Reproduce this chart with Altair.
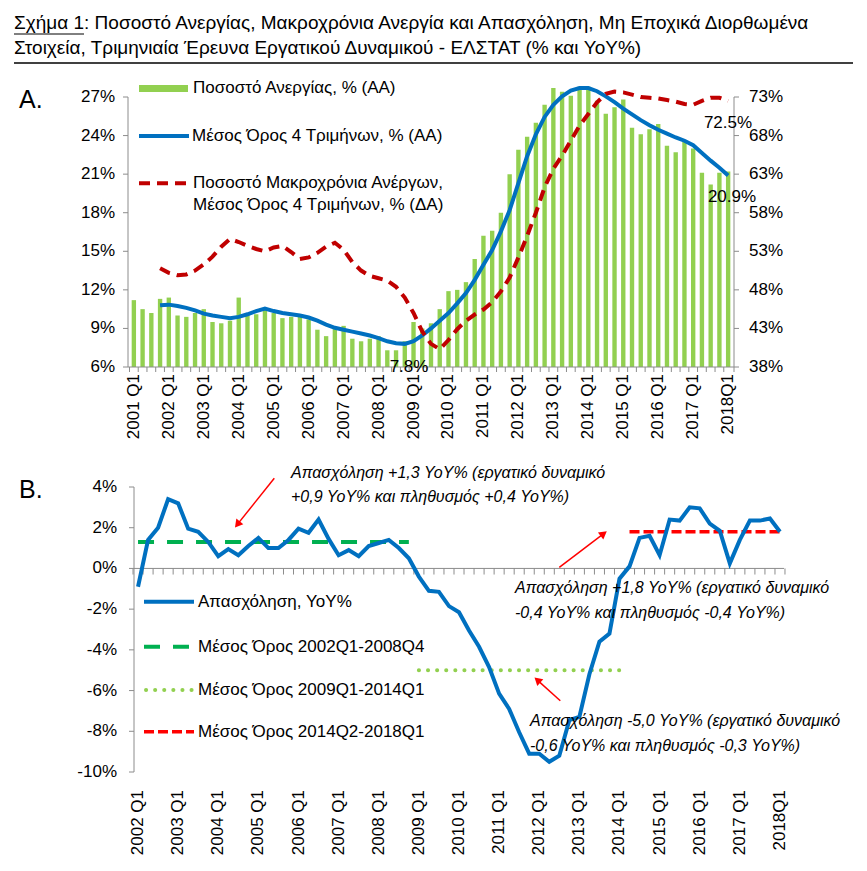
import altair as alt
import pandas as pd

FONT = "Liberation Sans"
GRAY = "#8c8c8c"
BLUE = "#0070C0"
BAR_GREEN = "#92D050"
DARK_RED = "#C00000"
GREEN = "#00B050"
RED = "#FF0000"

# ---------------- Panel A data ----------------
quarters_a = [f"{y} Q{q}" for y in range(2001, 2018) for q in (1, 2, 3, 4)] + ["2018 Q1"]
unemployment = [
    11.2, 10.5, 10.2, 11.3, 11.4, 10.0, 9.9, 10.2, 10.5, 9.5,
    9.4, 9.6, 11.4, 10.2, 10.1, 10.6, 10.2, 9.8, 9.9, 9.9,
    9.7, 8.9, 8.4, 9.0, 9.2, 8.2, 8.0, 8.2, 8.4, 7.3,
    7.3, 8.0, 9.5, 9.0, 9.4, 10.5, 11.9, 12.0, 12.6, 14.4,
    16.2, 16.6, 18.0, 21.0, 22.9, 23.9, 25.0, 26.4, 27.7, 27.4,
    27.1, 27.8, 27.8, 26.7, 25.7, 26.2, 26.8, 24.6, 24.1, 24.5,
    24.9, 23.2, 22.7, 23.5, 23.0, 21.1, 20.2, 21.1, 21.2,
]
# 4-quarter averages start in 2001 Q4
quarters_ma = quarters_a[3:]
unemployment_ma4 = [
    10.8, 10.85, 10.75, 10.6, 10.4, 10.15, 10.0, 9.9, 9.8, 9.9,
    10.1, 10.35, 10.55, 10.35, 10.2, 10.1, 10.0, 9.85, 9.6, 9.3,
    9.05, 8.9, 8.75, 8.6, 8.45, 8.25, 8.0, 7.85, 7.8, 8.0,
    8.45, 9.0, 9.6, 10.2, 10.95, 11.75, 12.78, 13.95, 15.1, 16.55,
    18.2, 20.3, 22.4, 24.1, 25.45, 26.4, 27.05, 27.5, 27.7, 27.7,
    27.45, 27.05, 26.6, 26.1, 25.65, 25.2, 24.8, 24.45, 24.15, 23.85,
    23.6, 23.25, 22.65, 22.05, 21.5, 20.9,
]
long_term_ma4 = [
    50.8, 50.2, 49.9, 50.0, 50.5, 51.3, 52.3, 53.6, 54.6, 54.2,
    53.7, 53.3, 53.0, 53.5, 53.7, 52.9, 52.0, 52.2, 52.8, 53.6,
    54.1, 53.2, 51.6, 50.5, 49.8, 49.5, 49.2, 48.4, 47.0, 45.0,
    42.6, 41.0, 40.3, 41.5, 42.9, 44.0, 44.8, 45.45, 46.4, 47.8,
    49.6, 52.2, 55.0, 58.0, 61.3, 63.7, 65.4, 67.35, 69.3, 70.8,
    72.3, 73.4, 73.7, 73.6, 73.3, 73.0, 72.9, 72.8, 72.6, 72.4,
    72.1, 72.0, 72.5, 72.9, 72.9, 72.5,
]
left_ticks_a = [6, 9, 12, 15, 18, 21, 24, 27]
left_labels_a = ["6%", "9%", "12%", "15%", "18%", "21%", "24%", "27%"]
right_ticks_a = [38, 43, 48, 53, 58, 63, 68, 73]
right_labels_a = ["38%", "43%", "48%", "53%", "58%", "63%", "68%", "73%"]
xlabel_q_a = [q for q in quarters_a if q.endswith("Q1")]
xlabel_text_a = [f"{y} Q1" for y in range(2001, 2018)] + ["2018Q1"]

# ---------------- Panel B data ----------------
quarters_b = quarters_a[4:]
employment_yoy = [
    -0.9, 1.4, 2.0, 3.4, 3.2, 1.95, 1.8, 1.3, 0.6, 0.95,
    0.65, 1.1, 1.5, 1.0, 1.0, 1.4, 1.95, 1.75, 2.4, 1.45,
    0.65, 0.9, 0.6, 1.1, 1.25, 1.4, 1.0, 0.5, -0.4, -1.1,
    -1.15, -1.85, -2.15, -3.05, -3.85, -4.85, -6.15, -6.9, -8.05, -9.1,
    -9.1, -9.5, -9.2, -7.45, -7.3, -5.2, -3.6, -3.2, -0.5, 0.1,
    1.5, 1.6, 0.65, 2.4, 2.35, 3.0, 2.95, 2.2, 1.85, 0.25,
    1.4, 2.35, 2.35, 2.45, 1.8,
]
avg_labels = ["Μέσος Όρος 2002Q1-2008Q4", "Μέσος Όρος 2009Q1-2014Q1", "Μέσος Όρος 2014Q2-2018Q1"]
avg_values = [1.3, -5.0, 1.8]
avg_start = ["2002 Q1", "2009 Q1", "2014 Q2"]
avg_end = ["2008 Q4", "2014 Q1", "2018 Q1"]
ticks_b = [-10, -8, -6, -4, -2, 0, 2, 4]
tick_labels_b = ["-10%", "-8%", "-6%", "-4%", "-2%", "0%", "2%", "4%"]
xlabel_q_b = [q for q in quarters_b if q.endswith("Q1")]
xlabel_text_b = [f"{y} Q1" for y in range(2002, 2018)] + ["2018Q1"]

one = pd.DataFrame({"a": [0]})


def txt(s, x, y, size=17, align="left", italic=False, color="black"):
    return alt.Chart(pd.DataFrame({"t": [s]})).mark_text(
        align=align, baseline="middle", font=FONT, fontSize=size,
        fontStyle="italic" if italic else "normal", color=color
    ).encode(x=alt.value(x), y=alt.value(y), text="t:N")


def seg(x1, y1, x2, y2, color=GRAY, width=1, dash=None, cap=None):
    kw = dict(color=color, strokeWidth=width)
    if dash:
        kw["strokeDash"] = dash
    if cap:
        kw["strokeCap"] = cap
    return alt.Chart(one).mark_rule(**kw).encode(
        x=alt.value(x1), y=alt.value(y1), x2=alt.value(x2), y2=alt.value(y2))


def box(x1, y1, x2, y2, color="white", opacity=0.0):
    return alt.Chart(one).mark_rect(color=color, opacity=opacity).encode(
        x=alt.value(x1), x2=alt.value(x2), y=alt.value(y1), y2=alt.value(y2))


def arrowhead(x, y, angle):
    return alt.Chart(one).mark_point(shape="triangle-up", filled=True, size=80, angle=angle,
                                     color=RED, opacity=1).encode(x=alt.value(x), y=alt.value(y))


# ---------------- Panel A ----------------
WA, HA = 606, 270
df_bars = pd.DataFrame({"q": quarters_a, "u": unemployment, "base": [6.0] * len(quarters_a)})
df_ma = pd.DataFrame({"q": quarters_ma, "ma": unemployment_ma4})
df_lt = pd.DataFrame({"q": quarters_ma, "lt": long_term_ma4})
df_lticks = pd.DataFrame({"v": left_ticks_a, "lab": left_labels_a})
df_rticks = pd.DataFrame({"v": right_ticks_a, "lab": right_labels_a})
df_xl_a = pd.DataFrame({"q": xlabel_q_a, "lab": xlabel_text_a})

x_a = alt.X("q:O", scale=alt.Scale(domain=quarters_a, paddingInner=0.5, paddingOuter=0.42), axis=None)
ls = alt.Scale(domain=[6, 27], nice=False, zero=False)
rs = alt.Scale(domain=[38, 73], nice=False, zero=False)
STEP_A = 606 / (69 - 0.5 + 0.84)

bars = alt.Chart(df_bars).mark_bar(color=BAR_GREEN).encode(
    x=x_a, y=alt.Y("u:Q", scale=ls, axis=None), y2="base:Q")
blue_a = alt.Chart(df_ma).mark_line(color=BLUE, strokeWidth=4).encode(
    x=x_a, y=alt.Y("ma:Q", scale=ls, axis=None))
red_a = alt.Chart(df_lt).mark_line(color=DARK_RED, strokeWidth=4, strokeDash=[11, 7]).encode(
    x=x_a, y=alt.Y("lt:Q", scale=rs, axis=None))

l_ticks = alt.Chart(df_lticks).mark_rule(color=GRAY).encode(
    x=alt.value(-5), x2=alt.value(0), y=alt.Y("v:Q", scale=ls, axis=None))
l_labels = alt.Chart(df_lticks).mark_text(align="right", baseline="middle", font=FONT, fontSize=17).encode(
    x=alt.value(-13), y=alt.Y("v:Q", scale=ls, axis=None), text="lab:N")
r_ticks = alt.Chart(df_rticks).mark_rule(color=GRAY).encode(
    x=alt.value(606), x2=alt.value(611), y=alt.Y("v:Q", scale=rs, axis=None))
r_labels = alt.Chart(df_rticks).mark_text(align="left", baseline="middle", font=FONT, fontSize=17).encode(
    x=alt.value(621), y=alt.Y("v:Q", scale=rs, axis=None), text="lab:N")
x_ticks = alt.Chart(df_bars).mark_rule(color=GRAY, xOffset=-STEP_A / 2).encode(
    x=x_a, y=alt.value(270), y2=alt.value(275))
x_labels = alt.Chart(df_xl_a).mark_text(angle=270, align="right", baseline="middle",
                                        font=FONT, fontSize=17).encode(
    x=x_a, y=alt.value(277), text="lab:N")

deco_a = [
    box(-114, -84, -112, -82),
    box(-114, 351, -112, 353),
    seg(0, 0, 0, 270),
    seg(606, 0, 606, 270),
    seg(0, 270, 606, 270),
    seg(606, 270, 606, 275),
    txt("Σχήμα 1: Ποσοστό Ανεργίας, Μακροχρόνια Ανεργία και Απασχόληση, Μη Εποχικά Διορθωμένα",
        -114, -74, size=19),
    txt("Στοιχεία, Τριμηνιαία Έρευνα Εργατικού Δυναμικού - ΕΛΣΤΑΤ (% και YoY%)", -114, -49, size=19),
    seg(-114, -63, -44, -63, "black", 1),
    seg(-114, -34, 725, -34, "black", 1.5),
    txt("A.", -109, 3, size=25),
    box(11, -12, 60, -5, color=BAR_GREEN, opacity=1.0),
    txt("Ποσοστό Ανεργίας, % (ΑΑ)", 65, -8.7),
    seg(11, 39, 61, 39, BLUE, 4),
    txt("Μέσος Όρος 4 Τριμήνων, % (ΑΑ)", 64, 39),
    seg(11, 86.3, 61, 86.3, DARK_RED, 4, dash=[11, 7]),
    txt("Ποσοστό Μακροχρόνια Ανέργων,", 65, 86.3),
    txt("Μέσος Όρος 4 Τριμήνων, % (ΔΑ)", 65, 108),
    txt("7.8%", 281, 269.7, align="center"),
    txt("72.5%", 600, 25.7, align="center"),
    txt("20.9%", 604, 99.7, align="center"),
]

panel_a = alt.layer(bars, blue_a, red_a, l_ticks, l_labels, r_ticks, r_labels, x_ticks, x_labels,
                    *deco_a).resolve_scale(y="independent").properties(width=WA, height=HA)

# ---------------- Panel B ----------------
WB, HB = 662, 285
dfb = pd.DataFrame({"q": quarters_b, "v": employment_yoy})
dfb_ticks = pd.DataFrame({"q": quarters_b, "z0": [0.0] * len(quarters_b), "z1": [-0.3] * len(quarters_b)})
dfzero = pd.DataFrame({"v": [0.0]})
df_yticks_b = pd.DataFrame({"v": ticks_b, "lab": tick_labels_b})
df_xl_b = pd.DataFrame({"q": xlabel_q_b, "lab": xlabel_text_b})
avg_rows = []
for lab, v, s, e in zip(avg_labels, avg_values, avg_start, avg_end):
    avg_rows += [{"p": lab, "q": s, "v": v}, {"p": lab, "q": e, "v": v}]
dfavg = pd.DataFrame(avg_rows)

x_b = alt.X("q:O", scale=alt.Scale(type="point", domain=quarters_b, padding=1.1), axis=None)
ys = alt.Scale(domain=[-10, 4], nice=False, zero=False)
y_b = alt.Y("v:Q", scale=ys, axis=None)

blue_b = alt.Chart(dfb).mark_line(color=BLUE, strokeWidth=4).encode(x=x_b, y=y_b)
zero_line = alt.Chart(dfzero).mark_rule(color=GRAY, strokeWidth=1).encode(
    x=alt.value(6), x2=alt.value(656), y=y_b)
zero_ticks = alt.Chart(dfb_ticks).mark_rule(color=GRAY, strokeWidth=1, xOffset=-5).encode(
    x=x_b, y=alt.Y("z0:Q", scale=ys, axis=None), y2="z1:Q")
zero_tick_end = alt.Chart(dfb_ticks).transform_filter("datum.q == '2018 Q1'").mark_rule(
    color=GRAY, strokeWidth=1, xOffset=5).encode(x=x_b, y=alt.Y("z0:Q", scale=ys, axis=None), y2="z1:Q")
yb_ticks = alt.Chart(df_yticks_b).mark_rule(color=GRAY).encode(
    x=alt.value(1), x2=alt.value(6), y=y_b)
yb_labels = alt.Chart(df_yticks_b).mark_text(align="right", baseline="middle", font=FONT, fontSize=17).encode(
    x=alt.value(-11), y=y_b, text="lab:N")
xb_labels = alt.Chart(df_xl_b).mark_text(angle=270, align="right", baseline="middle",
                                         font=FONT, fontSize=17).encode(
    x=x_b, y=alt.value(303), text="lab:N")

avg_styles = [
    dict(color=GREEN, strokeWidth=4, strokeDash=[16, 13]),
    dict(color=BAR_GREEN, strokeWidth=4, strokeDash=[0.1, 9], strokeCap="round"),
    dict(color=RED, strokeWidth=3.5, strokeDash=[10, 4]),
]
avg_layers = [
    alt.Chart(dfavg).transform_filter(alt.datum.p == lab).mark_line(**sty).encode(x=x_b, y=y_b)
    for lab, sty in zip(avg_labels, avg_styles)
]

deco_b = [
    box(-114, -30, -112, -28),
    seg(6, 0, 6, 285),
    txt("B.", -109, 3, size=25),
    seg(16, 114.7, 66, 114.7, BLUE, 4),
    txt("Απασχόληση, YoY%", 70, 114.7),
    seg(16, 159.7, 66, 159.7, GREEN, 4, dash=[16, 13]),
    txt(avg_labels[0], 70, 159.7),
    seg(18, 203, 66, 203, BAR_GREEN, 4, dash=[0.1, 9], cap="round"),
    txt(avg_labels[1], 70, 203),
    seg(16, 244.7, 66, 244.7, RED, 3.5, dash=[10, 4]),
    txt(avg_labels[2], 70, 244.7),
    txt("Απασχόληση +1,3 YoY% (εργατικό δυναμικό", 163, -13.7, size=16, italic=True),
    txt("+0,9 YoY% και πληθυσμός +0,4 YoY%)", 163, 9.7, size=16, italic=True),
    txt("Απασχόληση +1,8 YoY% (εργατικό δυναμικό", 387, 100.7, size=16, italic=True),
    txt("-0,4 YoY% και πληθυσμός -0,4 YoY%)", 387, 125.7, size=16, italic=True),
    txt("Απασχόληση -5,0 YoY% (εργατικό δυναμικό", 402, 234, size=16, italic=True),
    txt("-0,6 YoY% και πληθυσμός -0,3 YoY%)", 402, 259, size=16, italic=True),
    seg(146.3, -8.7, 109.4, 37.4, RED, 1.5),
    arrowhead(109.4, 37.4, 218.7),
    seg(431.3, 80.3, 475.7, 46.7, RED, 1.5),
    arrowhead(475.7, 46.7, 52.9),
    seg(432.3, 213.7, 409.4, 193.1, RED, 1.5),
    arrowhead(409.4, 193.1, 312),
]

panel_b = alt.layer(zero_line, zero_ticks, zero_tick_end, yb_ticks, yb_labels, xb_labels,
                    *avg_layers, blue_b, *deco_b).properties(width=WB, height=HB)

chart = alt.vconcat(panel_a, panel_b, spacing=7).configure_view(strokeWidth=0)

chart.save("out.html", embed_options={"renderer": "svg", "actions": False})
